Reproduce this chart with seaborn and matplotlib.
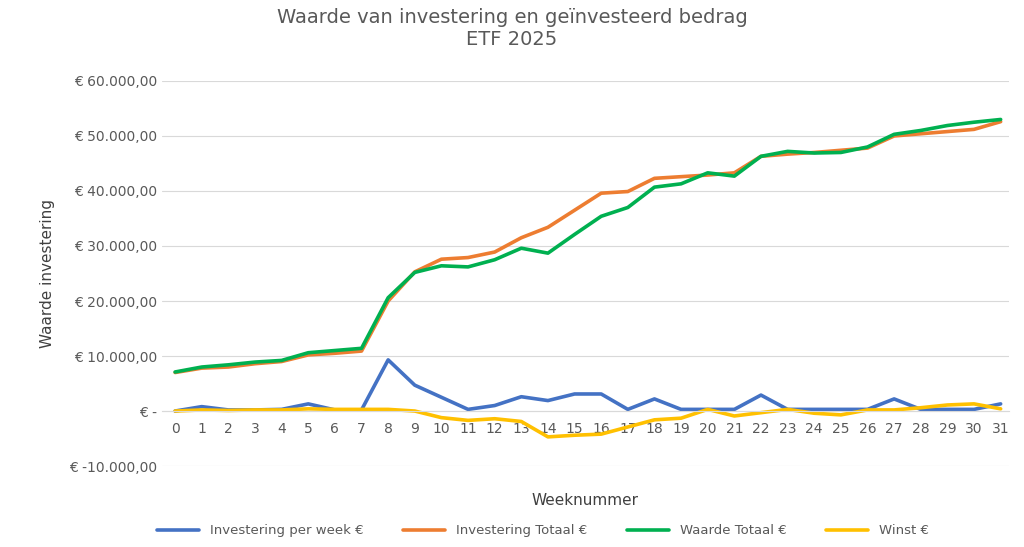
import pandas as pd
import matplotlib
matplotlib.use("Agg")
import matplotlib.pyplot as plt
import seaborn as sns
from matplotlib.ticker import FuncFormatter, MultipleLocator

weeks = list(range(32))
investering_week = [0, 800, 200, 200, 300, 1300, 200, 200, 9300, 4700, 2500, 300, 1000, 2600, 1900, 3100,
                    3100, 300, 2200, 300, 300, 300, 2900, 300, 300, 300, 300, 2200, 300, 300, 300, 1300]
investering_totaal = [7000, 7800, 8000, 8600, 9000, 10200, 10500, 10900, 20000, 25300, 27600, 27900, 28900, 31500,
                      33400, 36500, 39600, 39900, 42300, 42600, 42900, 43300, 46300, 46700, 47000, 47400, 47800,
                      50000, 50400, 50800, 51200, 52600]
waarde_totaal = [7100, 8000, 8400, 8900, 9200, 10600, 11000, 11400, 20600, 25200, 26400, 26200, 27500, 29600,
                 28700, 32100, 35400, 37000, 40700, 41300, 43300, 42700, 46300, 47200, 46900, 47000, 48000,
                 50300, 51000, 51900, 52500, 53000]
winst = [0, 200, 100, 200, 200, 400, 300, 300, 300, 0, -1200, -1700, -1400, -1900, -4700, -4400, -4200,
         -2900, -1600, -1300, 300, -900, -300, 300, -400, -700, 200, 200, 600, 1100, 1300, 400]

series = {
    "Investering per week €": investering_week,
    "Investering Totaal €": investering_totaal,
    "Waarde Totaal €": waarde_totaal,
    "Winst €": winst,
}
df = pd.DataFrame([(w, name, v) for name, vals in series.items() for w, v in zip(weeks, vals)],
                  columns=["week", "serie", "waarde"])
palette = {"Investering per week €": "#4472C4", "Investering Totaal €": "#ED7D31",
           "Waarde Totaal €": "#00B050", "Winst €": "#FFC000"}

sns.set_style("white")
fig = plt.figure(figsize=(10.24, 5.47), dpi=100)
ax = fig.add_axes([0.158, 0.148, 0.827, 0.704])
sns.lineplot(data=df, x="week", y="waarde", hue="serie", palette=palette, linewidth=2.6, ax=ax)

def euro(v, pos):
    if v == 0:
        return "€ -"
    s = f"{abs(v):,.2f}".replace(",", "X").replace(".", ",").replace("X", ".")
    return f"€ -{s}" if v < 0 else f"€ {s}"

ax.yaxis.set_major_formatter(FuncFormatter(euro))
ax.yaxis.set_major_locator(MultipleLocator(10000))
ax.set_ylim(-10000, 60000)
ax.set_xlim(-0.5, 31.3)
ax.set_xticks(weeks)
ax.grid(axis="y", color="#D9D9D9", linewidth=0.8)
for s in ["top", "right", "left"]:
    ax.spines[s].set_visible(False)
ax.spines["bottom"].set_position(("data", 0))
ax.spines["bottom"].set_color("#D9D9D9")
ax.tick_params(axis="both", colors="#595959", labelsize=10, length=0)
ax.tick_params(axis="x", pad=8)
ax.set_xlabel("Weeknummer", fontsize=11, color="#404040", labelpad=25)
ax.set_ylabel("Waarde investering", fontsize=11, color="#404040", labelpad=10)
ax.xaxis.set_label_coords(0.5, -0.07)
fig.suptitle("Waarde van investering en geïnvesteerd bedrag\nETF 2025", fontsize=14, color="#595959", y=0.985)
ax.legend(loc="upper center", bbox_to_anchor=(0.45, -0.12), ncol=4, frameon=False, fontsize=9.5,
          labelcolor="#595959", handlelength=3.2, columnspacing=3)
fig.savefig("out.png", dpi=100)
